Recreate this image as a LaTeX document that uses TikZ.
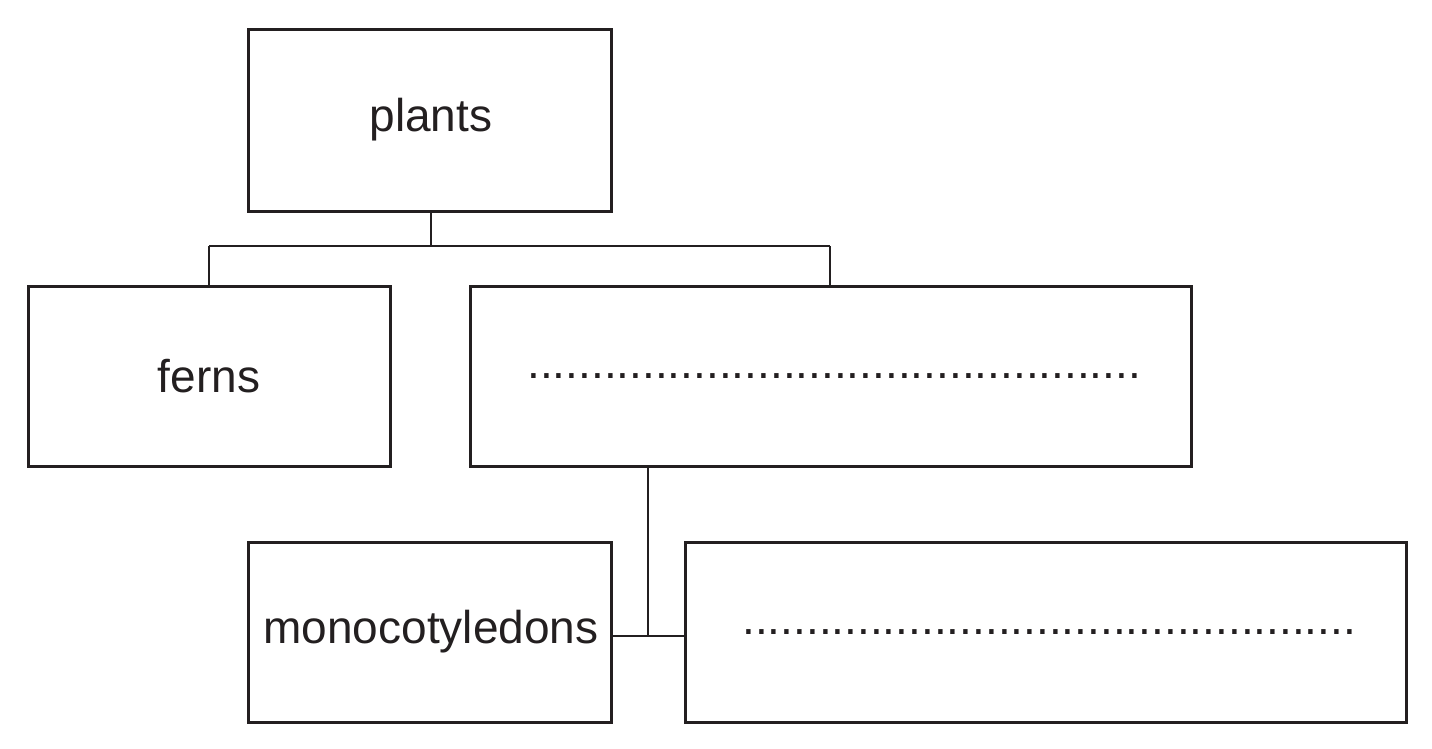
\documentclass[tikz,border=0pt]{standalone}
\usepackage{fontspec}
\setmainfont{Liberation Sans}
\definecolor{ink}{HTML}{231F20}
\begin{document}
\begin{tikzpicture}[x=1pt,y=-1pt,
  box/.style={draw=ink,line width=3pt,inner sep=0pt},
  lbl/.style={font=\fontsize{46}{50}\selectfont,text=ink},
  con/.style={draw=ink,line width=1.5pt}]
\useasboundingbox (0,0) rectangle (1432,749);
\draw[box] (248,30) rectangle (611,211);
\node[lbl] (plants) at (431,120) {plants};
\draw[box] (28,286) rectangle (390,466);
\node[lbl] (ferns) at (209,376) {ferns};
\draw[box] (470,286) rectangle (1191,466);
\node[lbl] (b1) at (834,376) {................................................};
\draw[box] (248,542) rectangle (611,722);
\node[lbl] (mono) at (431,632) {monocotyledons};
\draw[box] (685,542) rectangle (1406,722);
\node[lbl] (b2) at (1049,632) {................................................};
\coordinate (a) at (431,211); \coordinate (a1) at (431,246);
\coordinate (l) at (209,246); \coordinate (r) at (830,246);
\coordinate (l2) at (209,286); \coordinate (r2) at (830,286);
\draw[con] (a)--(a1) (l)--(r) (l)--(l2) (r)--(r2);
\coordinate (c) at (648,466); \coordinate (c1) at (648,636);
\coordinate (m) at (611,636); \coordinate (n) at (685,636);
\draw[con] (c)--(c1) (m)--(n);
\end{tikzpicture}
\end{document}
